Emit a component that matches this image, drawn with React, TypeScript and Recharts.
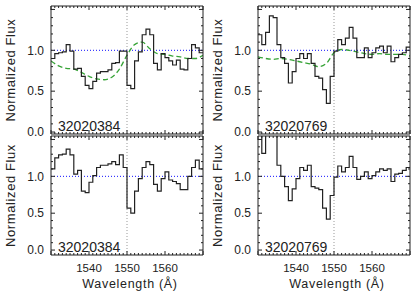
import { ComposedChart, Line, XAxis, YAxis, ReferenceLine } from "recharts"

// bin edges (Å)
const WAVE = [
  1530, 1531, 1532, 1533, 1534, 1535, 1536, 1537, 1538, 1539,
  1540, 1541, 1542, 1543, 1544, 1545, 1546, 1547, 1548, 1549,
  1550, 1551, 1552, 1553, 1554, 1555, 1556, 1557, 1558, 1559,
  1560, 1561, 1562, 1563, 1564, 1565, 1566, 1567, 1568, 1569,
  1570,
]

const FLUX_384_TOP = [
  0.90, 0.96, 0.97, 0.98, 1.07, 0.99, 0.77, 0.78, 0.68, 0.57,
  0.53, 0.62, 0.72, 0.74, 0.74, 0.76, 0.84, 0.85, 0.99, 0.99,
  0.57, 0.53, 0.87, 0.98, 1.19, 1.26, 1.19, 0.84, 0.76, 0.96,
  0.91, 0.87, 0.82, 0.88, 0.77, 0.76, 0.90, 1.07, 1.03, 0.97,
]
const FLUX_384_BOT = [
  1.10, 1.25, 1.29, 1.30, 1.37, 1.29, 1.03, 1.08, 0.80, 0.78,
  0.92, 1.01, 1.12, 1.15, 1.15, 1.17, 1.20, 1.16, 1.29, 1.12,
  0.57, 0.50, 0.80, 0.97, 1.12, 1.20, 1.16, 0.89, 0.80, 0.97,
  1.06, 0.95, 0.93, 0.90, 0.82, 0.82, 1.00, 1.12, 1.22, 1.10,
]
const FLUX_769_TOP = [
  1.19, 1.07, 1.22, 1.42, 1.40, 1.07, 0.91, 0.84, 0.60, 0.74,
  0.90, 0.96, 0.90, 0.96, 0.84, 0.68, 0.66, 0.52, 0.35, 0.68,
  0.99, 1.13, 1.07, 1.15, 1.28, 1.15, 0.91, 0.91, 1.03, 0.91,
  0.97, 1.03, 1.05, 0.97, 1.05, 0.86, 0.91, 0.95, 0.97, 1.04,
]
const FLUX_769_BOT = [
  1.60, 1.31, 1.60, 1.60, 1.60, 1.15, 1.00, 0.86, 0.67, 0.83,
  0.97, 1.12, 1.08, 1.15, 0.86, 0.84, 0.82, 0.57, 0.42, 0.74,
  0.99, 1.14, 1.06, 1.12, 1.27, 1.12, 0.96, 1.00, 1.06, 0.97,
  1.01, 1.06, 1.10, 1.08, 1.10, 0.93, 1.03, 1.04, 1.08, 1.12,
]

// continuum fit (green dashed)
const CONT_WAVE = [
  1530, 1532, 1534, 1536, 1538, 1540, 1542, 1544, 1546, 1548,
  1550, 1552, 1554, 1556, 1558, 1560, 1562, 1564, 1566, 1568, 1570,
]
const CONT_384 = [
  0.87, 0.81, 0.78, 0.77, 0.73, 0.68, 0.65, 0.64, 0.67, 0.77,
  0.94, 1.07, 1.10, 1.02, 0.96, 0.95, 0.93, 0.92, 0.90, 0.90, 0.94,
]
const CONT_769 = [
  0.92, 0.90, 0.89, 0.90, 0.89, 0.87, 0.85, 0.83, 0.80, 0.84,
  0.97, 1.01, 1.00, 0.98, 0.96, 0.95, 0.96, 0.95, 0.95, 0.95, 0.93,
]

const X_TICKS = WAVE
const X_MAJOR = [1530, 1540, 1550, 1560, 1570]
const X_LABELS = [1540, 1550, 1560]
const Y_TICKS = [0, 0.1, 0.2, 0.3, 0.4, 0.5, 0.6, 0.7, 0.8, 0.9, 1.0, 1.1, 1.2, 1.3, 1.4, 1.5]
const Y_LABELS = [0, 0.5, 1.0]
const CIV = 1550

const FONT = "'Liberation Sans', Arial, sans-serif"
const INK = "#222"

const ML = 50
const MT = 5

function stepData(flux: number[]) {
  return WAVE.map((w, i) => ({ w, f: flux[Math.min(i, flux.length - 1)] }))
}

function contData(cont: number[]) {
  return CONT_WAVE.map((w, i) => ({ w, f: cont[i] }))
}

const isMajorY = (v: number) => Math.round(v * 10) % 5 === 0

type PanelProps = {
  left: number
  top: number
  w: number
  h: number
  flux: number[]
  cont?: number[]
  name: string
  yDomain: [number, number]
  bottom: boolean
}

function Panel({ left, top, w, h, flux, cont, name, yDomain, bottom }: PanelProps) {
  const mb = bottom ? 42 : 6
  const mr = 4
  return (
    <div style={{ position: "absolute", left: left - ML, top: top - MT }}>
      <ComposedChart
        width={ML + w + mr}
        height={MT + h + mb}
        margin={{ top: MT, right: mr, bottom: mb, left: ML }}
      >
        <XAxis
          xAxisId="b"
          dataKey="w"
          type="number"
          domain={[1530, 1570]}
          allowDataOverflow
          ticks={X_TICKS}
          interval={0}
          height={1}
          tickSize={0}
          tickMargin={0}
          axisLine={{ stroke: INK }}
          tickLine={false}
          tick={(p: any) => {
            const v = p.payload.value
            const len = X_MAJOR.includes(v) ? 4 : 2
            return (
              <g>
                <line x1={p.x} y1={p.y} x2={p.x} y2={p.y - len} stroke={INK} />
                {bottom && X_LABELS.includes(v) && (
                  <text x={p.x} y={p.y + 16.5} textAnchor="middle" fontSize={11.5} fontFamily={FONT} fill={INK}>
                    {v}
                  </text>
                )}
              </g>
            )
          }}
          label={() =>
            bottom ? (
              <text x={ML + w / 2 + 3} y={MT + h + 32} textAnchor="middle" fontSize={12.5} fontFamily={FONT} fill={INK} letterSpacing={0.7}>
                Wavelength (Å)
              </text>
            ) : null
          }
        />
        <XAxis
          xAxisId="t"
          orientation="top"
          dataKey="w"
          type="number"
          domain={[1530, 1570]}
          allowDataOverflow
          ticks={X_TICKS}
          interval={0}
          height={1}
          tickSize={0}
          tickMargin={0}
          axisLine={{ stroke: INK }}
          tickLine={false}
          tick={(p: any) => {
            const len = X_MAJOR.includes(p.payload.value) ? 4 : 2
            return <line x1={p.x} y1={p.y} x2={p.x} y2={p.y + len} stroke={INK} />
          }}
        />
        <YAxis
          yAxisId="l"
          type="number"
          domain={yDomain}
          allowDataOverflow
          ticks={Y_TICKS}
          interval={0}
          width={1}
          tickSize={0}
          tickMargin={0}
          axisLine={{ stroke: INK }}
          tickLine={false}
          tick={(p: any) => {
            const v = p.payload.value
            const len = isMajorY(v) ? 4 : 2
            return (
              <g>
                <line x1={p.x} y1={p.y} x2={p.x + len} y2={p.y} stroke={INK} />
                {Y_LABELS.includes(v) && (
                  <text x={p.x - 7} y={p.y} dy="0.35em" textAnchor="end" fontSize={12} fontFamily={FONT} fill={INK}>
                    {v.toFixed(1)}
                  </text>
                )}
              </g>
            )
          }}
          label={() => (
            <g>
              <text
                x={ML - 40}
                y={MT + h / 2}
                transform={`rotate(-90 ${ML - 40} ${MT + h / 2})`}
                dominantBaseline="central"
                textAnchor="middle"
                fontSize={13}
                fontFamily={FONT}
                fill={INK}
                letterSpacing={0.6}
              >
                Normalized Flux
              </text>
              <text x={ML + 8} y={MT + h - 4} fontSize={14} fontFamily={FONT} fill={INK}>
                {name}
              </text>
            </g>
          )}
        />
        <YAxis
          yAxisId="r"
          orientation="right"
          type="number"
          domain={yDomain}
          allowDataOverflow
          ticks={Y_TICKS}
          interval={0}
          width={1}
          tickSize={0}
          tickMargin={0}
          axisLine={{ stroke: INK }}
          tickLine={false}
          tick={(p: any) => {
            const len = isMajorY(p.payload.value) ? 4 : 2
            return <line x1={p.x} y1={p.y} x2={p.x - len} y2={p.y} stroke={INK} />
          }}
        />
        <ReferenceLine xAxisId="b" yAxisId="l" y={1} stroke="#1010ff" strokeDasharray="1 2" strokeWidth={1} />
        <ReferenceLine xAxisId="b" yAxisId="l" x={CIV} stroke="#999" strokeDasharray="1 2" strokeWidth={1} />
        {cont && (
          <Line
            xAxisId="b"
            yAxisId="l"
            data={contData(cont)}
            dataKey="f"
            type="monotone"
            stroke="#36a336"
            strokeWidth={1.3}
            strokeDasharray="5 3"
            dot={false}
            isAnimationActive={false}
          />
        )}
        <Line
          xAxisId="b"
          yAxisId="l"
          data={stepData(flux)}
          dataKey="f"
          type="stepAfter"
          stroke={INK}
          strokeWidth={1.2}
          dot={false}
          isAnimationActive={false}
        />
      </ComposedChart>
    </div>
  )
}

export default function App() {
  return (
    <div style={{ position: "absolute", left: 0, top: 0, width: 415, height: 297, overflow: "hidden", background: "#fff" }}>
      <Panel left={50} top={5} w={154} h={130} flux={FLUX_384_TOP} cont={CONT_384} name="32020384" yDomain={[-0.024, 1.542]} bottom={false} />
      <Panel left={257} top={5} w={154} h={130} flux={FLUX_769_TOP} cont={CONT_769} name="32020769" yDomain={[-0.024, 1.542]} bottom={false} />
      <Panel left={50} top={135} w={154} h={121} flux={FLUX_384_BOT} name="32020384" yDomain={[-0.067, 1.547]} bottom />
      <Panel left={257} top={135} w={154} h={121} flux={FLUX_769_BOT} name="32020769" yDomain={[-0.067, 1.547]} bottom />
    </div>
  )
}
